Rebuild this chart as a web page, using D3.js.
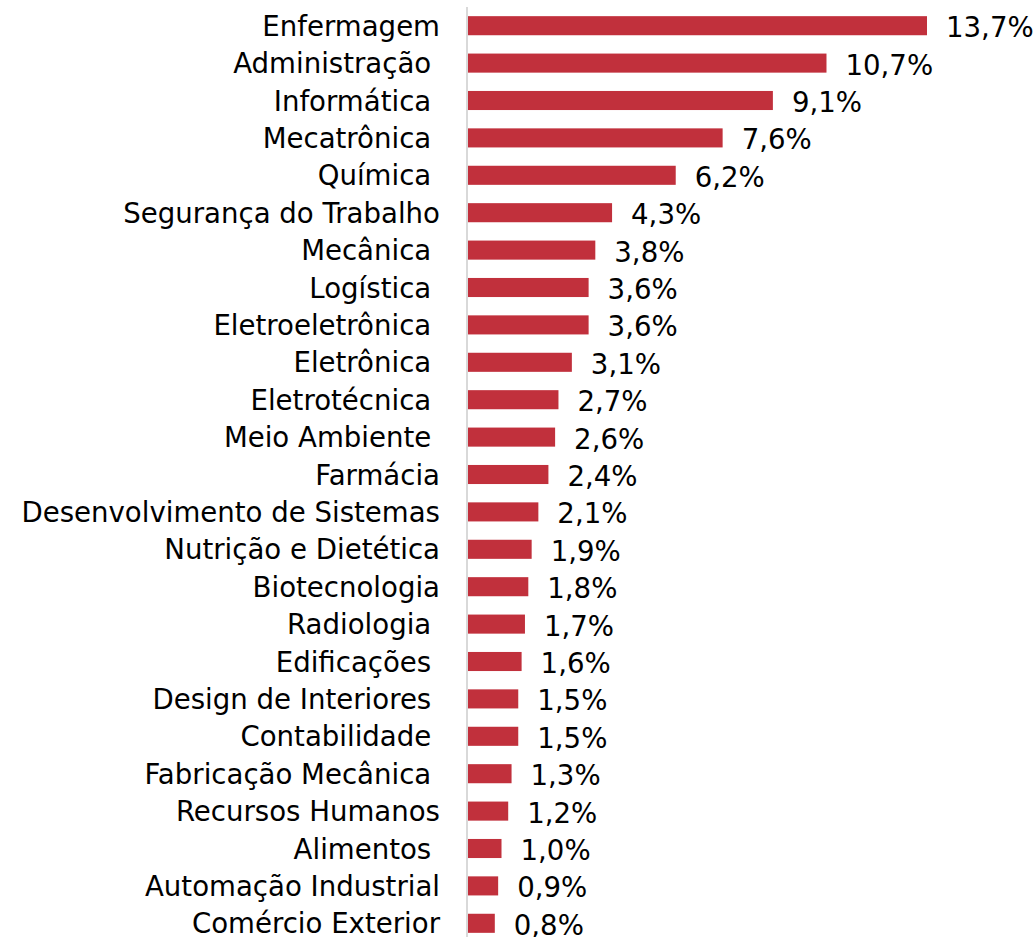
<!DOCTYPE html>
<html>
<head>
<meta charset="utf-8">
<script src="https://cdn.jsdelivr.net/npm/d3@7"></script>
<style>
  body { margin: 0; background: #fff; }
  text { font-family: "DejaVu Sans", sans-serif; white-space: pre; fill: #000; }
</style>
</head>
<body>
<script>
// categories (trailing spaces kept as in the original labels)
var cursos = ["Enfermagem", "Administração ", "Informática ", "Mecatrônica ", "Química ",
  "Segurança do Trabalho", "Mecânica ", "Logística ", "Eletroeletrônica ", "Eletrônica ",
  "Eletrotécnica ", "Meio Ambiente ", "Farmácia", "Desenvolvimento de Sistemas",
  "Nutrição e Dietética", "Biotecnologia", "Radiologia ", "Edificações ",
  "Design de Interiores ", "Contabilidade ", "Fabricação Mecânica ", "Recursos Humanos",
  "Alimentos ", "Automação Industrial", "Comércio Exterior"];
var percentual = [13.7, 10.7, 9.1, 7.6, 6.2, 4.3, 3.8, 3.6, 3.6, 3.1, 2.7, 2.6, 2.4, 2.1,
  1.9, 1.8, 1.7, 1.6, 1.5, 1.5, 1.3, 1.2, 1.0, 0.9, 0.8];
var rotulos = percentual.map(function(d){ return d.toFixed(1).replace(".", ",") + "%"; });

function main(){
	var w = 1036;
	var h = 937;
	var fs = 27.6;

	var svg = d3.select("body")
				.append("svg")
				.attr("width", w)
				.attr("height", h);

	var x = d3.scaleLinear()
		.domain([0, 13.7])
		.range([468, 927]);

	var y = d3.scaleBand()
		.domain(cursos)
		.range([7, 942])
		.paddingInner(0.49)
		.paddingOuter(0.245);

	svg.selectAll(".bar")
		.data(percentual)
		.enter()
		.append("rect")
		.attr("class", "bar")
		.attr("x", x(0))
		.attr("y", function(d, i){ return y(cursos[i]); })
		.attr("width", function(d){ return x(d) - x(0); })
		.attr("height", y.bandwidth())
		.attr("fill", "#c1303c");

	// eixo vertical
	svg.append("line")
		.attr("x1", 467)
		.attr("x2", 467)
		.attr("y1", 7)
		.attr("y2", h)
		.attr("stroke", "#d9d9d9")
		.attr("stroke-width", 2);

	svg.selectAll(".cat")
		.data(cursos)
		.enter()
		.append("text")
		.attr("class", "cat")
		.attr("x", 440)
		.attr("y", function(d){ return y(d) + y.bandwidth() / 2 + 10; })
		.attr("text-anchor", "end")
		.style("font-size", fs + "px")
		.text(function(d){ return d; });

	svg.selectAll(".val")
		.data(percentual)
		.enter()
		.append("text")
		.attr("class", "val")
		.attr("x", function(d){ return x(d) + 19; })
		.attr("y", function(d, i){ return y(cursos[i]) + y.bandwidth() / 2 + 11.5; })
		.style("font-size", fs + "px")
		.text(function(d, i){ return rotulos[i]; });
}

main();
</script>
</body>
</html>
